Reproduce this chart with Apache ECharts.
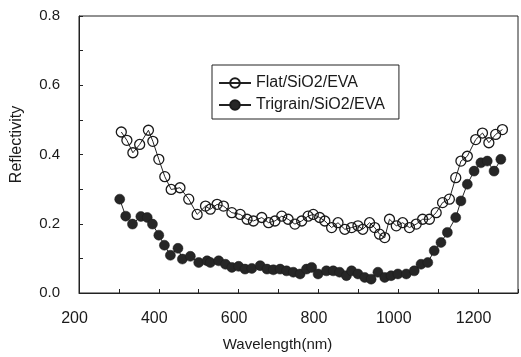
<!DOCTYPE html>
<html><head><meta charset="utf-8">
<script src="https://cdn.jsdelivr.net/npm/echarts@6/dist/echarts.min.js"></script>
<style>html,body{margin:0;padding:0;background:#fff}#c{width:521px;height:357px}</style>
</head><body><div id="c"></div>
<script>
var xLabels = [200, 400, 600, 800, 1000, 1200];
var yLabels = [0.0, 0.2, 0.4, 0.6, 0.8];
var flatX = [306,320,335,352,374,385,400,415,431,453,475,496,517,529,546,562,583,604,621,637,658,675,691,708,724,741,758,774,787,803,816,833,849,866,883,899,911,928,941,953,966,978,995,1011,1028,1045,1061,1078,1095,1111,1128,1144,1157,1173,1194,1211,1227,1244,1261];
var flatY = [0.465,0.441,0.405,0.429,0.470,0.438,0.386,0.336,0.299,0.304,0.271,0.227,0.251,0.242,0.256,0.251,0.232,0.227,0.213,0.208,0.218,0.203,0.208,0.222,0.213,0.199,0.208,0.222,0.227,0.218,0.208,0.189,0.203,0.184,0.189,0.194,0.184,0.203,0.189,0.170,0.160,0.213,0.194,0.203,0.189,0.199,0.213,0.213,0.232,0.261,0.271,0.333,0.381,0.395,0.443,0.462,0.434,0.458,0.472];
var triX = [302,317,334,355,371,384,400,414,429,448,459,479,500,521,529,550,567,583,600,616,633,654,671,687,704,720,737,754,770,783,799,820,837,853,870,883,899,916,932,949,966,982,999,1020,1040,1057,1074,1090,1107,1123,1144,1157,1173,1190,1207,1223,1240,1257];
var triY = [0.271,0.222,0.199,0.221,0.218,0.199,0.167,0.138,0.109,0.129,0.098,0.106,0.088,0.093,0.088,0.093,0.083,0.074,0.077,0.069,0.071,0.079,0.069,0.067,0.069,0.064,0.060,0.055,0.069,0.074,0.055,0.064,0.064,0.060,0.050,0.064,0.055,0.045,0.040,0.060,0.045,0.050,0.055,0.055,0.064,0.083,0.088,0.122,0.146,0.175,0.218,0.266,0.314,0.352,0.376,0.381,0.352,0.386];
var seriesNames = ['Flat/SiO2/EVA', 'Trigrain/SiO2/EVA'];

function pairs(xs, ys){ return xs.map(function(x,i){return [x, ys[i]];}); }
var font = "'Liberation Sans', Arial, sans-serif";
var chart = echarts.init(document.getElementById('c'), null, {renderer:'canvas'});
chart.setOption({
  animation: false,
  backgroundColor: '#fff',
  grid: {left: 79, right: 2, top: 16, bottom: 63, show: true, borderColor: '#222', borderWidth: 1},
  legend: {
    orient: 'vertical', left: 212, top: 65,
    padding: [10, 14, 6, 6], itemGap: 6, itemWidth: 32, itemHeight: 12,
    borderColor: '#222', borderWidth: 1, borderRadius: 0,
    textStyle: {fontFamily: font, fontSize: 16, color: '#1a1a1a'},
    data: seriesNames
  },
  xAxis: {
    type: 'value', min: 200, max: 1300, interval: 100,
    name: 'Wavelength(nm)', nameLocation: 'middle', nameGap: 44,
    nameTextStyle: {fontFamily: font, fontSize: 15, color: '#1a1a1a', padding: [0, 42, 0, 0]},
    axisLine: {show: true, lineStyle: {color: '#222', width: 1}},
    axisTick: {show: true, inside: true, length: 4, lineStyle: {color: '#222'}},
    splitLine: {show: false},
    axisLabel: {
      fontFamily: font, fontSize: 16, color: '#1a1a1a', margin: 18, padding: [0, 9, 0, 0],
      formatter: function(v){ return xLabels.indexOf(v) >= 0 ? String(v) : ''; }
    }
  },
  yAxis: {
    type: 'value', min: 0, max: 0.8, interval: 0.1,
    name: 'Reflectivity', nameLocation: 'middle', nameGap: 54,
    nameTextStyle: {fontFamily: font, fontSize: 16, color: '#1a1a1a', padding: [0, 0, 0, 20]},
    axisLine: {show: true, lineStyle: {color: '#222', width: 1}},
    axisTick: {show: true, inside: true, length: 4, lineStyle: {color: '#222'}},
    splitLine: {show: false},
    axisLabel: {
      fontFamily: font, fontSize: 15, color: '#1a1a1a', margin: 19,
      formatter: function(v){
        var r = Math.round(v * 10) / 10;
        for (var i = 0; i < yLabels.length; i++) if (Math.abs(yLabels[i] - r) < 1e-6) return r.toFixed(1);
        return '';
      }
    }
  },
  series: [
    {
      name: seriesNames[0], type: 'line', data: pairs(flatX, flatY),
      symbol: 'circle', symbolSize: 10,
      lineStyle: {color: '#222', width: 1},
      itemStyle: {color: 'rgba(255,255,255,0)', borderColor: '#1a1a1a', borderWidth: 1.3},
      z: 3
    },
    {
      name: seriesNames[1], type: 'line', data: pairs(triX, triY),
      symbol: 'circle', symbolSize: 10,
      lineStyle: {color: '#222', width: 1},
      itemStyle: {color: '#262626', borderColor: '#1a1a1a', borderWidth: 0.5},
      z: 2
    }
  ]
});
</script></body></html>
